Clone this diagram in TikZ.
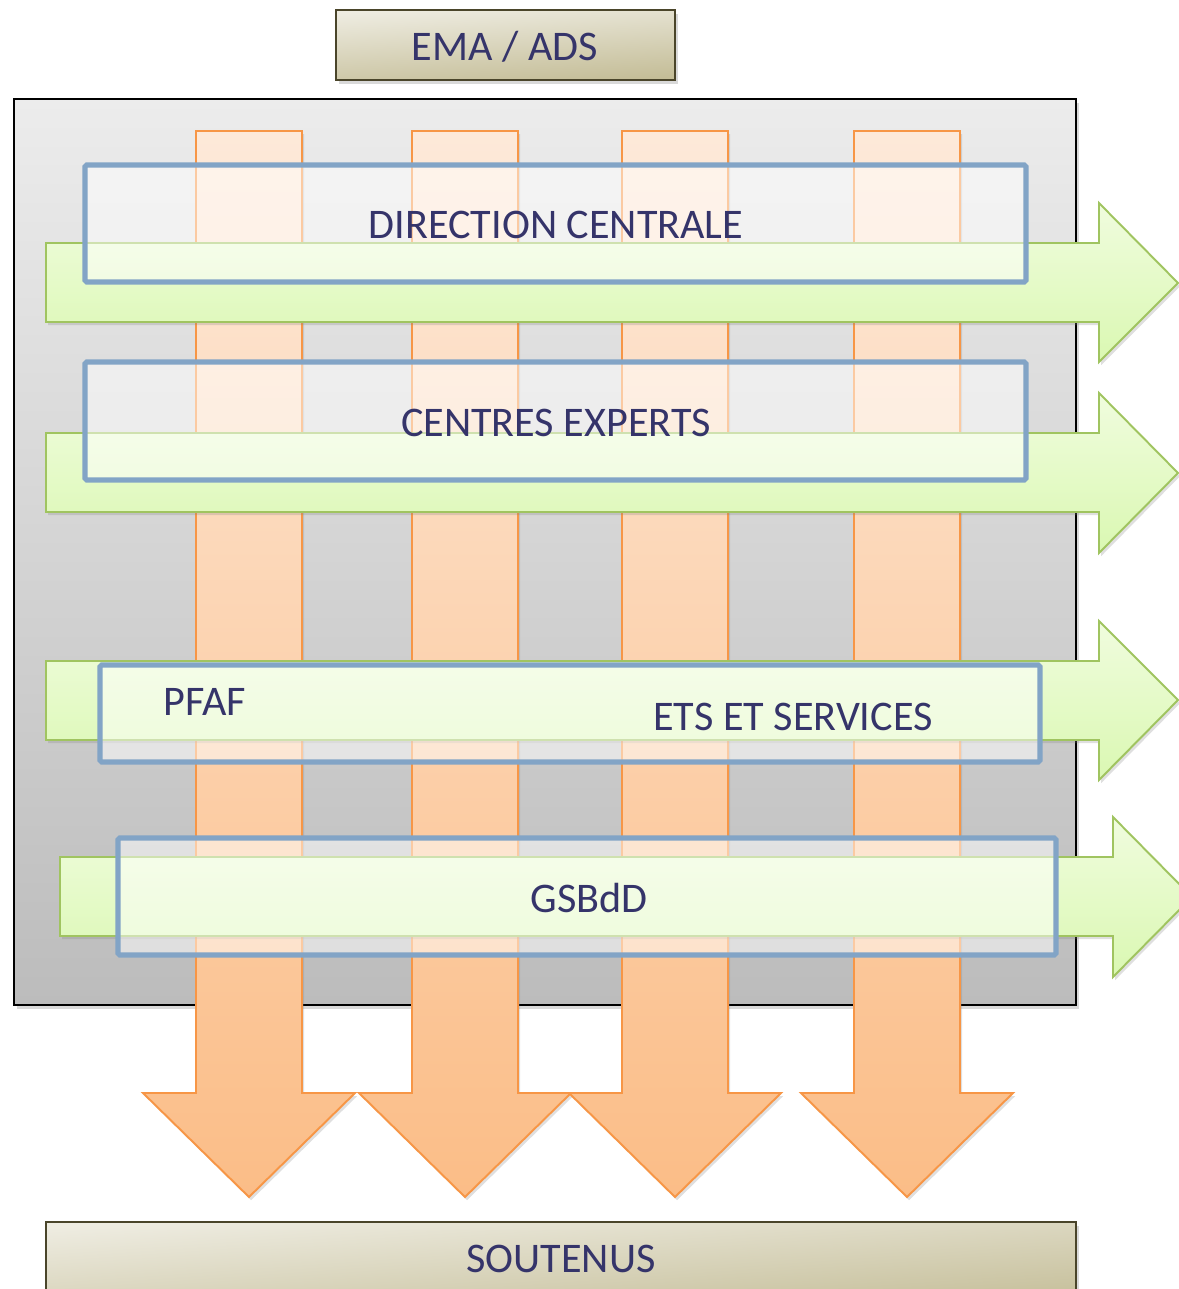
\documentclass[tikz,border=0pt]{standalone}
\usepackage{fontspec}
\setmainfont{Carlito}
\usetikzlibrary{shadows}
\definecolor{txt}{RGB}{53,52,106}
\definecolor{grayT}{RGB}{236,236,236}
\definecolor{grayB}{RGB}{188,188,188}
\definecolor{orT}{RGB}{253,233,217}
\definecolor{orB}{RGB}{251,189,135}
\definecolor{orL}{RGB}{247,150,70}
\definecolor{grT}{RGB}{240,252,222}
\definecolor{grB}{RGB}{218,248,178}
\definecolor{grL}{RGB}{160,196,96}
\definecolor{blL}{RGB}{130,164,198}
\definecolor{beT}{RGB}{238,236,225}
\definecolor{beB}{RGB}{196,189,151}
\definecolor{beL}{RGB}{74,69,42}
\tikzset{
  lbl/.style={text=txt, font=\fontsize{24}{28}\selectfont, inner sep=0pt, anchor=base},
  beigebox/.style={draw=beL, line width=1.2pt, top color=beT, bottom color=beB, shading angle=4,
     drop shadow={opacity=0.3, shadow xshift=1.5pt, shadow yshift=-2pt}},
  graybox/.style={draw=black, line width=1.1pt, top color=grayT, bottom color=grayB,
     drop shadow={opacity=0.3, shadow xshift=1.5pt, shadow yshift=-2pt}},
  orarrow/.style={draw=orL, line width=1.1pt, top color=orT, bottom color=orB,
     drop shadow={opacity=0.25, shadow xshift=1.2pt, shadow yshift=-1.8pt}},
  grarrow/.style={draw=grL, line width=1.1pt, top color=grT, bottom color=grB,
     drop shadow={opacity=0.25, shadow xshift=1.2pt, shadow yshift=-1.8pt}},
  bluebox/.style={draw=blL, line width=2.9pt, fill=white, fill opacity=0.5, draw opacity=1, rounded corners=1pt},
}
\begin{document}
\begin{tikzpicture}[x=0.02cm, y=-0.02cm]
\useasboundingbox (0,0) rectangle (1179,1289);
% top box
\path[beigebox] (336,10) rectangle (675,80);
\node[lbl] (ema) at (505,60) {EMA / ADS};
% bottom box
\path[beigebox] (46,1222) rectangle (1076,1310);
\node[lbl] (soutenus) at (561,1272) {SOUTENUS};
% big gray square
\path[graybox] (14,99) rectangle (1076,1005);
% orange arrows
\foreach \L/\R/\C in {196/302/249, 412/518/465, 622/728/675, 854/960/907}{
  \path[orarrow] (\L,131) -- (\R,131) -- (\R,1093) -- ({\R+53},1093) -- (\C,1197)
     -- ({\L-53},1093) -- (\L,1093) -- cycle;
}
% green arrows
\path[grarrow] (46,243) -- (1099,243) -- (1099,203) -- (1178,283) -- (1099,362) -- (1099,322) -- (46,322) -- cycle;
\path[grarrow] (46,433) -- (1099,433) -- (1099,393) -- (1178,473) -- (1099,553) -- (1099,512) -- (46,512) -- cycle;
\path[grarrow] (46,661) -- (1099,661) -- (1099,621) -- (1178,700) -- (1099,780) -- (1099,740) -- (46,740) -- cycle;
\path[grarrow] (60,857) -- (1113,857) -- (1113,817) -- (1192,897) -- (1113,977) -- (1113,936) -- (60,936) -- cycle;
% blue boxes
\path[bluebox] (85,165) rectangle (1026,282);
\path[bluebox] (85,362) rectangle (1026,480);
\path[bluebox] (100,665) rectangle (1040,762);
\path[bluebox] (118,838) rectangle (1056,955);
% labels
\node[lbl] (dc) at (556,238) {DIRECTION CENTRALE};
\node[lbl] (ce) at (556,436) {CENTRES EXPERTS};
\node[lbl] (pfaf) at (205,715) {PFAF};
\node[lbl] (ets) at (793,730) {ETS ET SERVICES};
\node[lbl] (gsbdd) at (589,912) {GSBdD};
\end{tikzpicture}
\end{document}
